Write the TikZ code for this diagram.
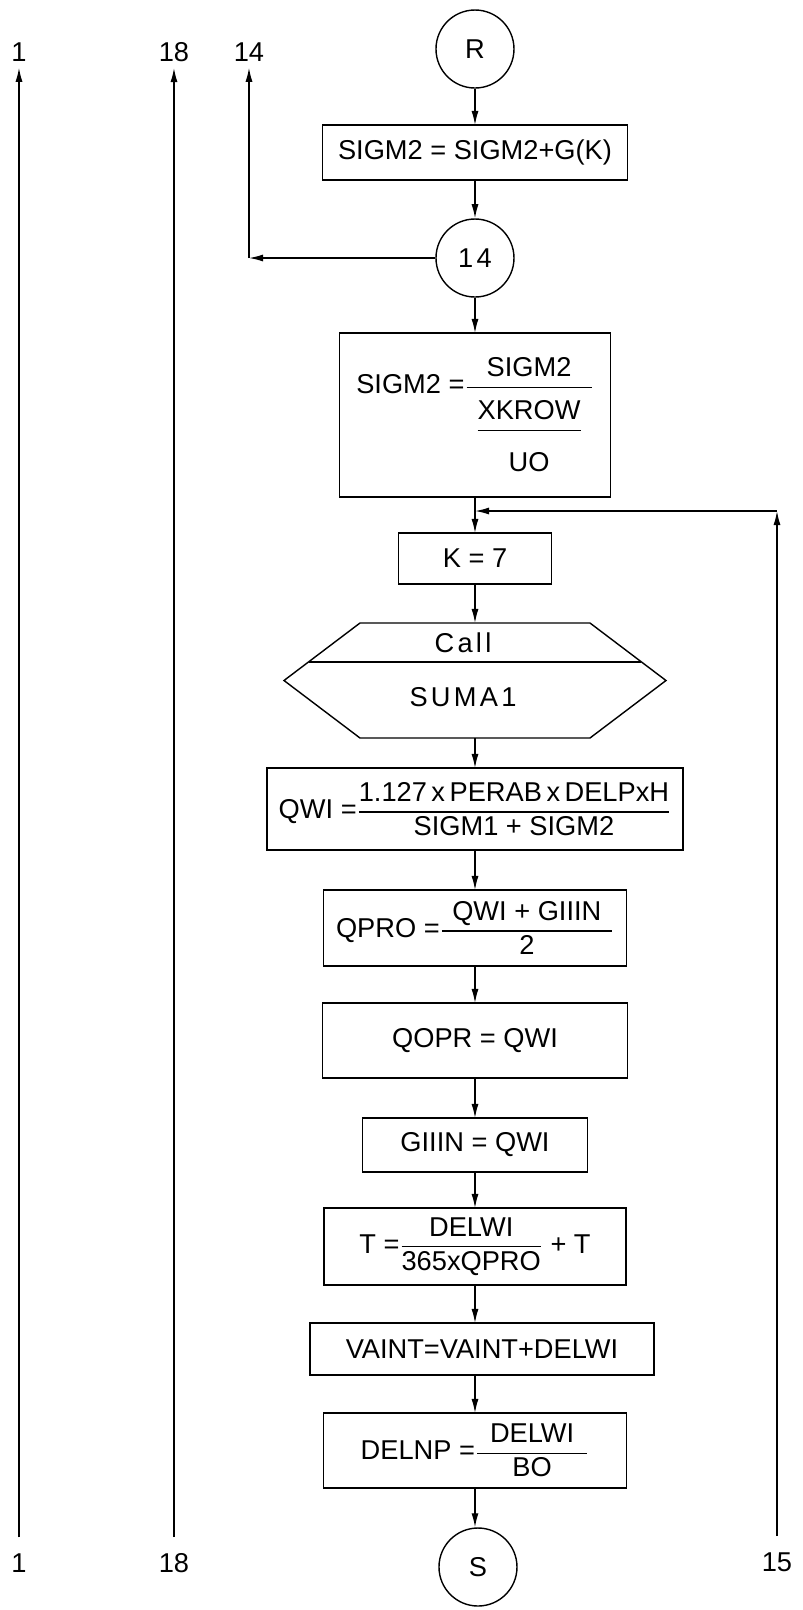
\documentclass[tikz,border=0pt]{standalone}
\usepackage{amsmath}
\usepackage{fontspec}
\setmainfont{Liberation Sans}
\usetikzlibrary{
    arrows.meta,
    positioning
}
\tikzset{
  proc/.style   = {draw, line width=0.8pt, inner sep=0pt, outer sep=0pt,
                   align=center},
  conn/.style   = {draw, circle, line width=0.8pt, minimum size=1.56cm,
                   inner sep=0pt},
  lbl/.style    = {inner sep=0.12cm},
  spaced/.style = {font=\fontsize{15.5}{18}\selectfont\addfontfeature{LetterSpace=12}},
  arr/.style    = {-{Latex[length=8pt, width=4pt]}, line width=0.8pt}
}
\newcommand{\fr}[2]{\genfrac{}{}{0.7pt}{0}{#1}{#2}}

\begin{document}
\begin{tikzpicture}[
  every node/.style={font=\fontsize{15.5}{18}\selectfont}
]
\useasboundingbox (-9.5,0) rectangle (6.56,-32.2);

% main column
\node[conn] (r) at (0,-0.98) {R};
\node[proc, minimum width=6.1cm, minimum height=1.1cm] (b1) at (0,-3.05) {SIGM2 = SIGM2+G(K)};
\node[conn, spaced] (c14) at (0,-5.16) {14};
\node[proc, minimum width=5.42cm, minimum height=3.28cm] (big) at (0,-8.3)
  {SIGM2 =$\fr{\text{\makebox[2.5cm]{SIGM2}}}{\fr{\rule{0pt}{0.55cm}\text{XKROW}}{\rule{0pt}{0.75cm}\text{UO}}}$};
\node[proc, minimum width=3.06cm, minimum height=1.02cm] (k7) at (0,-11.17) {K = 7};
\node[minimum width=7.64cm, minimum height=2.3cm, inner sep=0pt, outer sep=0pt] (call) at (0,-13.61) {};
\node[spaced] (calltxt) at (-0.24,-12.86) {Call};
\node[spaced] (suma) at (-0.24,-13.94) {SUMA1};
\node[proc, minimum width=8.32cm, minimum height=1.64cm] (qwi) at (0,-16.18)
  {QWI =$\fr{\text{1.127\,x\,PERAB\,x\,DELPxH}}{\text{SIGM1 + SIGM2}}$};
\node[proc, minimum width=6.06cm, minimum height=1.52cm] (qpro) at (0,-18.56)
  {QPRO =$\fr{\text{\makebox[3.4cm]{QWI + GIIIN}}}{\text{2}}$};
\node[proc, minimum width=6.1cm, minimum height=1.5cm] (qopr) at (0,-20.81) {QOPR = QWI};
\node[proc, minimum width=4.5cm, minimum height=1.08cm] (giiin) at (0,-22.9) {GIIIN = QWI};
\node[proc, minimum width=6.04cm, minimum height=1.54cm] (tbox) at (0,-24.93)
  {T =$\fr{\text{DELWI}}{\text{365xQPRO}}$ + T};
\node[proc, minimum width=6.88cm, minimum height=1.04cm] (vaint) at (0.14,-26.98) {VAINT=VAINT+DELWI};
\node[proc, minimum width=6.06cm, minimum height=1.5cm] (delnp) at (0,-29.01)
  {DELNP =$\fr{\text{\makebox[2.2cm]{DELWI}}}{\text{BO}}$};
\node[conn] (s) at (0.06,-31.34) {S};

% hexagon of the call
\draw[line width=0.8pt] (call.west) -- ([xshift=1.52cm]call.north west)
  -- ([xshift=-1.52cm]call.north east) -- (call.east)
  -- ([xshift=-1.52cm]call.south east) -- ([xshift=1.52cm]call.south west) -- cycle;
\draw[line width=0.8pt] ([xshift=0.5cm, yshift=-0.78cm]call.north west)
  -- ([xshift=-0.5cm, yshift=-0.78cm]call.north east);

% side labels
\node[lbl] (t1) at (-9.12,-1.04) {1};
\node[lbl] (b1l) at (-9.12,-31.26) {1};
\node[lbl] (t18) at (-6.02,-1.04) {18};
\node[lbl] (b18) at (-6.02,-31.26) {18};
\node[lbl] (t14) at (-4.52,-1.04) {14};
\node[lbl] (b15) at (6.04,-31.24) {15};
\coordinate (k14) at (-4.52,-5.16);
\coordinate (k15) at (6.04,-10.22);
\coordinate (j15) at (0,-10.22);

\draw[arr] (r) -- (b1);
\draw[arr] (b1) -- (c14);
\draw[arr] (c14) -- (big);
\draw[arr] (big) -- (k7);
\draw[arr] (k7) -- (call);
\draw[arr] (call) -- (qwi);
\draw[arr] (qwi) -- (qpro);
\draw[arr] (qpro) -- (qopr);
\draw[arr] (qopr) -- (giiin);
\draw[arr] (giiin) -- (tbox);
\draw[arr] (tbox.south) -- (tbox.south |- vaint.north);
\draw[arr] (vaint.south -| delnp.north) -- (delnp.north);
\draw[arr] (delnp) -- (s.north -| delnp.south);

\draw[arr, shorten <=0.2cm] (b1l) -- (t1);
\draw[arr, shorten <=0.2cm] (b18) -- (t18);
\draw[arr] (c14) -- (k14);
\draw[arr] (k14) -- (t14);
\draw[arr, shorten <=0.2cm] (b15) -- (k15);
\draw[arr] (k15) -- (j15);

\end{tikzpicture}
\end{document}
